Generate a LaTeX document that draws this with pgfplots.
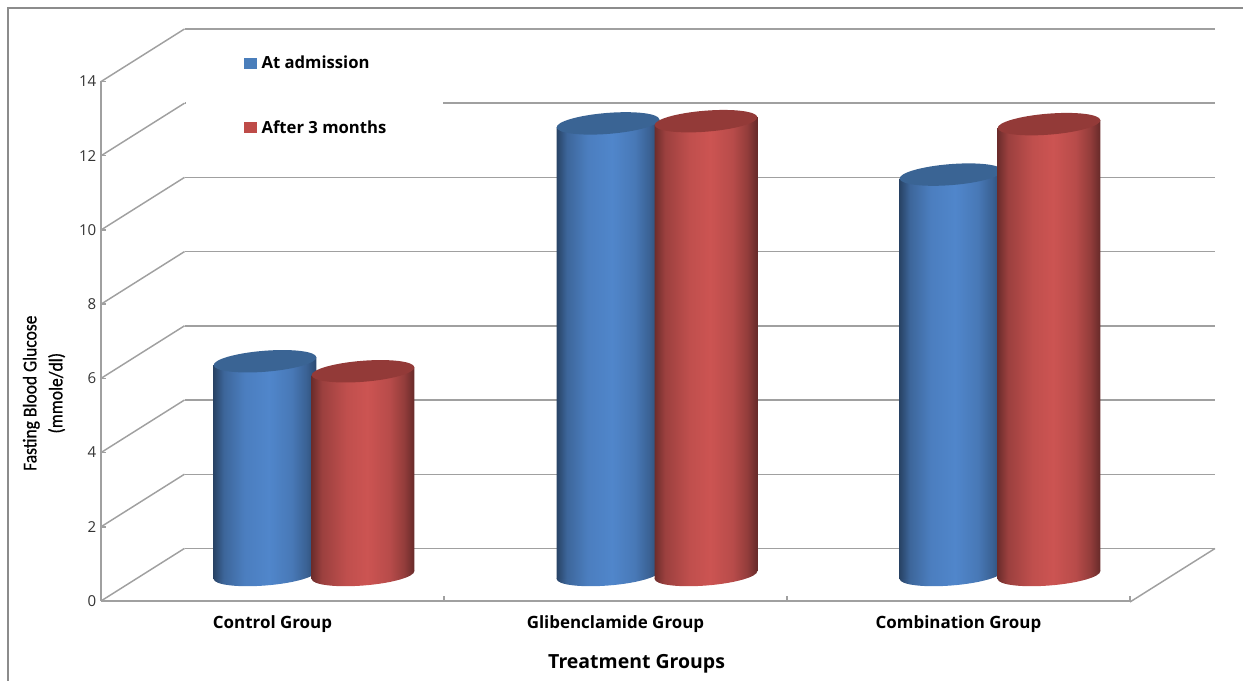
\documentclass[border=0pt]{standalone}
\usepackage{fontspec}
\usepackage{pgfplots}
\pgfplotsset{compat=1.18}
\usetikzlibrary{shapes.geometric}
\setmainfont{Open Sans}
\newfontfamily\condfont[FakeStretch=0.9,FakeBold=0.6]{Carlito}

\definecolor{wall}{HTML}{A0A0A0}
\definecolor{ticktext}{HTML}{333333}
\definecolor{blueleg}{HTML}{4A7EBB}
\definecolor{redleg}{HTML}{BE4B48}
\definecolor{bluebody}{HTML}{5086CB}
\definecolor{redbody}{HTML}{CC5452}
\definecolor{bluetop}{HTML}{3A6494}
\definecolor{redtop}{HTML}{933A38}

% cylinder sides: tikz maps 25bp..75bp onto the width of the path
\pgfdeclarehorizontalshading{bluecyl}{100bp}{
  color(0bp)=(black!45!bluebody); color(25bp)=(black!50!bluebody);
  color(30bp)=(black!24!bluebody); color(40bp)=(black!6!bluebody);
  color(52bp)=(bluebody); color(63bp)=(black!10!bluebody);
  color(70bp)=(black!27!bluebody); color(75bp)=(black!45!bluebody);
  color(100bp)=(black!45!bluebody)}
\pgfdeclarehorizontalshading{redcyl}{100bp}{
  color(0bp)=(black!45!redbody); color(25bp)=(black!47!redbody);
  color(30bp)=(black!24!redbody); color(42bp)=(black!6!redbody);
  color(52bp)=(redbody); color(63bp)=(black!10!redbody);
  color(70bp)=(black!28!redbody); color(75bp)=(black!50!redbody);
  color(100bp)=(black!50!redbody)}

% half width of a cylinder in x units, tilt of its ends in y units
\def\cylhalf{0.15}
\def\cyltilt{0.108}

% \cyl{x}{value}{side shading}{top colour}
\newcommand{\cyl}[4]{%
  \pgfmathsetmacro\xl{#1-\cylhalf}%
  \pgfmathsetmacro\xr{#1+\cylhalf}%
  \pgfmathsetmacro\yl{#2-\cyltilt}%
  \pgfmathsetmacro\yr{#2+\cyltilt}%
  \addplot[draw=none, mark=none, nodes near coords={\relax},
    every node near coord/.append style={ellipse, anchor=center, rotate=4.5,
      minimum width=77.25pt, minimum height=15.75pt, inner sep=0pt,
      draw=none, shade, shading=#3}]
    coordinates {(#1,0)};
  \edef\body{\noexpand\addplot[draw=none, mark=none, shade, shading=#3]
    coordinates {(\xl,-\cyltilt) (\xl,\yl) (\xr,\yr) (\xr,\cyltilt)} -- cycle;}%
  \body
  \addplot[draw=none, mark=none, nodes near coords={\relax},
    every node near coord/.append style={ellipse, anchor=center, rotate=4.5,
      minimum width=77.25pt, minimum height=15.75pt, inner sep=0pt,
      draw=none, fill=#4}]
    coordinates {(#1,#2)};
}

\begin{document}
\begin{tikzpicture}
\useasboundingbox (0,0) rectangle (932.25pt,510.75pt);

% back wall gridlines
\begin{axis}[
    at={(138.375pt,99.375pt)}, anchor=south west,
    scale only axis, width=772.875pt, height=389.625pt,
    xmin=0, xmax=1, ymin=0, ymax=14,
    axis line style={draw=none},
    xtick=\empty, ytick={0,2,...,14}, yticklabels={},
    major tick length=0pt,
    ymajorgrids, grid style={wall, line width=1.1pt},
]
\end{axis}

\begin{scope}[x=0.75pt, y=-0.75pt, yshift=510.75pt]
  % gap behind the legend, left of x=443
  \fill[white] (186,96) rectangle (443,110);
  % side wall
  \foreach \yy in {601,526.8,452.6,378.4,304.2,230,155.8,81.6}
    \draw[wall, line width=1.1pt] (101,\yy) -- (184.5,\yy-52.6);
  % right edge of the floor
  \draw[wall, line width=1.1pt] (1130,602) -- (1215,548.5);
  % outer frame
  \draw[gray!90, line width=1.1pt] (8,681) -- (8,8) -- (1243,8);
\end{scope}

% front plane: axes, labels, legend
\begin{axis}[
    at={(75.75pt,60pt)}, anchor=south west,
    scale only axis, width=771.75pt, height=389.625pt,
    xmin=0, xmax=3, ymin=0, ymax=14,
    axis lines*=left,
    axis line style={wall, line width=1.1pt},
    tick style={wall, line width=1.1pt},
    major tick length=4pt,
    xtick={0,1,2,3}, xticklabels={},
    extra x ticks={0.5,1.5,2.5},
    extra x tick labels={Control Group,Glibenclamide Group,Combination Group},
    extra x tick style={major tick length=0pt,
      xticklabel style={font=\fontsize{12.7}{14}\selectfont\bfseries, text=black, yshift=-7.5pt}},
    ytick={0,2,...,14},
    /pgf/number format/assume math mode=true,
    yticklabel style={font=\fontsize{11.3}{13}\selectfont, text=ticktext},
    xlabel={Treatment Groups},
    xlabel style={at={(axis description cs:0.5205,-0.1215)}, anchor=center,
      font=\fontsize{14.6}{16}\selectfont\bfseries},
    ylabel={Fasting Blood Glucose\\(mmole/dl)},
    ylabel style={at={(axis description cs:-0.0554,0.40)}, anchor=center, align=center,
      font=\condfont\fontsize{14.6}{19.5}\selectfont},
    legend style={at={(axis description cs:0.139,1.049)}, anchor=north west,
      draw=none, fill=none, inner sep=0pt, row sep=37pt,
      font=\fontsize{12.5}{14}\selectfont\bfseries,
      nodes={inner sep=0pt, anchor=west}},
    legend cell align=left,
    legend image code/.code={\fill[#1] (0pt,-3.7pt) rectangle (9pt,3.7pt);},
]
\addlegendimage{blueleg}
\addlegendentry{\hspace{3.5pt}At admission}
\addlegendimage{redleg}
\addlegendentry{\hspace{3.5pt}After 3 months}
\end{axis}

% cylinders stand half way into the floor
\begin{axis}[
    at={(107.25pt,79.5pt)}, anchor=south west,
    scale only axis, width=771.75pt, height=389.625pt,
    xmin=0, xmax=3, ymin=0, ymax=14,
    hide axis, clip=false, clip mode=individual,
]
\cyl{0.3557}{5.76}{bluecyl}{bluetop}
\cyl{0.6414}{5.49}{redcyl}{redtop}
\cyl{1.3557}{12.17}{bluecyl}{bluetop}
\cyl{1.6414}{12.23}{redcyl}{redtop}
\cyl{2.3557}{10.79}{bluecyl}{bluetop}
\cyl{2.6414}{12.15}{redcyl}{redtop}
\end{axis}
\end{tikzpicture}
\end{document}
